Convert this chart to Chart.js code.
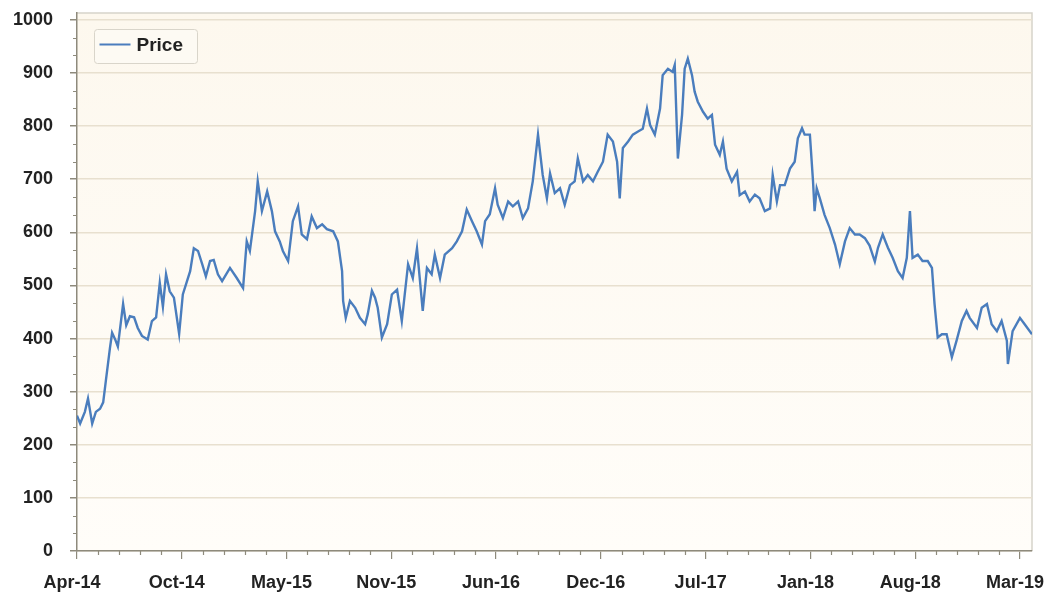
<!DOCTYPE html>
<html><head><meta charset="utf-8">
<script src="https://cdn.jsdelivr.net/npm/chart.js@4.4.1/dist/chart.umd.min.js"></script>
<style>html,body{margin:0;padding:0;background:#fff;}#wrap{width:1055px;height:593px;}</style>
</head><body><div id="wrap"><canvas id="c" width="1055" height="593"></canvas></div>
<script>
const seriesName = 'Price';
const startDate = '2014-04-01';
const dayOffsets = [0,6,15,21,29,36,44,50,55,63,67,73,78,88,94,101,109,116,124,135,143,151,158,164,170,177,185,195,202,210,216,223,231,239,246,254,261,269,277,292,305,317,324,330,340,345,353,363,372,378,387,393,403,412,422,429,439,448,458,468,477,489,498,506,508,513,521,531,540,550,555,563,569,574,582,592,601,611,620,632,641,649,660,668,677,683,693,702,716,725,735,744,754,763,773,779,788,798,803,813,823,832,842,851,861,870,880,889,897,903,912,922,931,941,950,956,966,975,985,994,1004,1013,1023,1031,1036,1042,1052,1061,1071,1080,1088,1094,1103,1113,1118,1128,1137,1141,1147,1155,1160,1166,1174,1179,1185,1195,1204,1212,1218,1227,1233,1240,1250,1260,1265,1275,1284,1294,1303,1313,1323,1328,1336,1342,1351,1361,1370,1376,1384,1389,1399,1405,1408,1412,1418,1427,1437,1447,1456,1466,1475,1485,1494,1504,1513,1523,1529,1538,1548,1557,1567,1576,1584,1590,1595,1605,1614,1624,1632,1637,1643,1651,1660,1670,1679,1689,1698,1704,1718,1727,1737,1746,1756,1765,1775,1777,1786,1800,1809,1823];
const prices = [255,240,262,287,240,262,268,280,320,383,411,398,385,465,425,442,440,420,405,398,433,440,505,460,521,489,477,409,483,508,527,570,565,540,517,546,548,521,508,533,514,495,583,565,640,696,640,677,640,602,583,565,546,621,649,596,587,630,608,615,606,602,583,527,471,439,471,458,439,427,446,490,477,458,402,427,483,492,433,540,514,570,452,533,521,558,514,558,570,583,602,643,621,602,577,621,634,683,652,627,658,649,658,627,645,696,784,708,664,711,674,683,652,689,696,739,696,708,696,714,733,784,771,733,664,759,771,784,790,795,833,802,784,833,896,908,902,915,739,821,908,927,896,865,846,827,814,821,765,746,771,720,696,714,670,677,658,671,664,640,645,708,658,689,689,720,733,777,796,784,784,696,640,683,664,633,608,577,540,583,608,596,596,589,575,545,571,596,571,552,527,514,552,640,552,558,546,546,533,465,402,408,408,365,396,433,452,439,420,458,465,427,414,433,396,352,414,439,427,408];
const xTickLabels = ['Apr-14','Oct-14','May-15','Nov-15','Jun-16','Dec-16','Jul-17','Jan-18','Aug-18','Mar-19'];
const xTickStepDays = 200;
const yTickValues = [0,100,200,300,400,500,600,700,800,900,1000];

const FONT = '"Liberation Sans", Arial, sans-serif';
const AXIS_COLOR = '#8e8a7c';

const plotBg = {
  id: 'plotBg',
  beforeDraw(chart) {
    const {ctx, chartArea: a} = chart;
    const g = ctx.createLinearGradient(0, a.top, 0, a.bottom);
    g.addColorStop(0, '#fdf8ee');
    g.addColorStop(1, '#fffdf9');
    ctx.save();
    ctx.fillStyle = g;
    ctx.fillRect(a.left, a.top, a.right - a.left, a.bottom - a.top);
    ctx.strokeStyle = '#d6d3ca';
    ctx.lineWidth = 1.5;
    ctx.beginPath();
    ctx.moveTo(a.left, a.top); ctx.lineTo(a.right, a.top); ctx.lineTo(a.right, a.bottom);
    ctx.stroke();
    ctx.restore();
  }
};

const minorTicks = {
  id: 'minorTicks',
  afterDraw(chart) {
    const {ctx, chartArea: a, scales} = chart;
    ctx.save();
    ctx.strokeStyle = AXIS_COLOR;
    ctx.lineWidth = 1.2;
    ctx.beginPath();
    for (let d = 0; d <= scales.x.max; d += xTickStepDays / 5) {
      if (d % xTickStepDays === 0) continue;
      const px = Math.round(scales.x.getPixelForValue(d)) + 0.5;
      ctx.moveTo(px, a.bottom); ctx.lineTo(px, a.bottom + 4);
    }
    for (let i = 0; i < 30; i++) {
      if (i % 3 === 0) continue;
      const py = Math.round(scales.y.getPixelForValue(i * 100 / 3)) + 0.5;
      ctx.moveTo(a.left - 4, py); ctx.lineTo(a.left, py);
    }
    ctx.stroke();
    // legend box
    const ds = chart.data.datasets[0];
    const bx = a.left + 17.5, by = a.top + 16.5, bw = 103, bh = 34;
    ctx.fillStyle = '#fdfaf3';
    ctx.strokeStyle = '#d9d5ca';
    ctx.lineWidth = 1;
    ctx.beginPath();
    if (ctx.roundRect) ctx.roundRect(bx, by, bw, bh, 3); else ctx.rect(bx, by, bw, bh);
    ctx.fill(); ctx.stroke();
    ctx.strokeStyle = ds.borderColor;
    ctx.lineWidth = 2;
    ctx.beginPath();
    ctx.moveTo(bx + 5, by + 15); ctx.lineTo(bx + 36, by + 15);
    ctx.stroke();
    ctx.fillStyle = '#222';
    ctx.font = 'bold 19px ' + FONT;
    ctx.textBaseline = 'middle';
    ctx.textAlign = 'left';
    ctx.fillText(ds.label, bx + 42, by + 16);
    ctx.restore();
  }
};

function zeroPad(s) { s.paddingTop = 0; s.paddingBottom = 0; s.paddingLeft = 0; s.paddingRight = 0; }

new Chart(document.getElementById('c'), {
  type: 'line',
  data: {
    datasets: [{
      label: seriesName,
      data: dayOffsets.map((d, i) => ({x: d, y: prices[i]})),
      borderColor: '#4a7dbd',
      borderWidth: 2.4,
      pointRadius: 0,
      tension: 0,
      fill: false
    }]
  },
  options: {
    responsive: false,
    devicePixelRatio: 1,
    animation: false,
    layout: {padding: {left: 0, top: 13, right: 23, bottom: 0}},
    plugins: {legend: {display: false}, tooltip: {enabled: false}},
    scales: {
      x: {
        type: 'linear',
        min: 0,
        max: 1823,
        afterBuildTicks: s => { s.ticks = xTickLabels.map((_, i) => ({value: i * xTickStepDays})); },
        afterFit: s => { s.height = 42; zeroPad(s); },
        ticks: {
          callback: v => xTickLabels[Math.round(v / xTickStepDays)],
          font: {family: FONT, size: 18, weight: 'bold'},
          color: '#222',
          maxRotation: 0,
          autoSkip: false,
          padding: 13,
          labelOffset: -5
        },
        grid: {drawOnChartArea: false, tickLength: 8, color: AXIS_COLOR, lineWidth: 1.2},
        border: {color: AXIS_COLOR, width: 1.5}
      },
      y: {
        min: 0,
        max: 1013,
        afterBuildTicks: s => { s.ticks = yTickValues.map(v => ({value: v})); },
        afterFit: s => { s.width = 77; zeroPad(s); },
        ticks: {
          callback: v => String(v),
          font: {family: FONT, size: 18, weight: 'bold'},
          color: '#222',
          padding: 17
        },
        grid: {color: '#e8e0cf', lineWidth: 1.5, tickColor: AXIS_COLOR, tickLength: 7},
        border: {color: AXIS_COLOR, width: 1.5}
      }
    }
  },
  plugins: [plotBg, minorTicks]
});
</script>
</body></html>
